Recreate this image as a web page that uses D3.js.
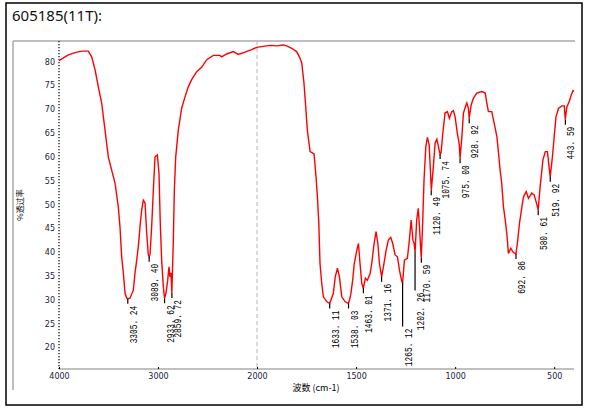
<!DOCTYPE html>
<meta charset="utf-8" />
<style>
  body { margin: 0; background: #fff; }
  .spectrum { fill: none; stroke: #ff0000; stroke-width: 1.4px; }
  .tick-lbl { font-family: "DejaVu Sans", sans-serif; font-size: 8px; fill: #1a1a40; }
  .peak-lbl { font-family: "Liberation Mono", monospace; font-size: 10px; fill: #000; }
</style>
<body>
<script src="https://d3js.org/d3.v7.min.js"></script>
<script>
// spectrum: wavenumber (cm-1) and % transmittance
var wavenumbers = [4000, 3906, 3838, 3771, 3704, 3670, 3636, 3603, 3569, 3535, 3502, 3468, 3434, 3401, 3384, 3367,
  3350, 3333, 3316, 3305, 3283, 3249, 3232, 3215, 3199, 3182, 3165, 3148, 3131, 3114, 3098, 3089, 3081, 3064, 3047,
  3030, 3007, 2990, 2977, 2963, 2946, 2934, 2919, 2902, 2889, 2879, 2869, 2860, 2845, 2835, 2821, 2795, 2761, 2727,
  2694, 2660, 2609, 2559, 2508, 2441, 2374, 2357, 2306, 2239, 2189, 2121, 2054, 2003, 1968, 1934, 1900, 1867, 1850,
  1825, 1800, 1786, 1774, 1763, 1754, 1746, 1732, 1712, 1702, 1695, 1688, 1682, 1673, 1665, 1648, 1633, 1615, 1605,
  1594, 1584, 1572, 1556, 1538, 1527, 1517, 1509, 1496, 1488, 1480, 1471, 1463, 1453, 1443, 1429, 1421, 1409, 1399,
  1390, 1382, 1371, 1362, 1348, 1337, 1325, 1315, 1303, 1291, 1281, 1269, 1265, 1256, 1241, 1231, 1222, 1213, 1207,
  1202, 1194, 1186, 1180, 1171, 1165, 1157, 1148, 1140, 1131, 1120, 1110, 1101, 1092, 1079, 1076, 1071, 1062, 1051,
  1039, 1029, 1017, 1009, 1000, 989, 979, 975, 966, 958, 948, 941, 933, 929, 919, 908, 891, 865, 848, 840, 832, 815,
  803, 789, 781, 773, 765, 756, 747, 739, 731, 719, 706, 693, 684, 675, 663, 655, 641, 630, 613, 601, 587, 581, 571,
  557, 545, 534, 524, 520, 509, 500, 491, 478, 461, 449, 444, 436, 424, 414, 405, 400];
var transmittance = [80.2, 81.4, 81.9, 82.2, 82.2, 81.0, 78.3, 74.7, 71.3, 65.6, 60.0, 57.2, 54.5, 49.5, 45.3, 39.0,
  35.6, 31.4, 30.3, 30.2, 30.3, 32.0, 35.6, 38.3, 41.1, 45.3, 48.8, 50.9, 50.3, 44.0, 39.4, 39.0, 39.4, 45.3, 53.0,
  60.0, 60.4, 56.6, 46.1, 38.3, 32.7, 30.3, 31.4, 34.1, 36.9, 34.8, 35.6, 31.4, 42.5, 53.0, 60.0, 65.6, 70.2, 72.6,
  74.7, 76.2, 77.9, 78.8, 80.4, 81.3, 81.3, 81.0, 81.6, 82.1, 81.5, 82.0, 82.5, 83.0, 83.2, 83.4, 83.3, 83.5, 83.3,
  82.8, 82.1, 81.0, 79.7, 75.5, 70.5, 65.6, 61.1, 60.6, 55.8, 51.6, 46.0, 37.6, 33.4, 30.6, 29.6, 29.2, 31.3, 34.8,
  36.6, 34.8, 30.6, 29.6, 29.2, 31.0, 34.1, 37.6, 40.4, 41.8, 37.6, 33.4, 32.4, 34.5, 34.1, 35.5, 37.6, 41.8, 44.3,
  41.8, 37.6, 34.8, 36.9, 40.4, 42.5, 43.1, 41.8, 39.4, 39.0, 36.2, 33.8, 33.6, 38.3, 38.7, 42.5, 46.7, 42.5, 41.8,
  40.1, 46.7, 49.2, 45.3, 38.8, 44.6, 55.1, 62.1, 64.1, 62.5, 53.0, 57.9, 62.9, 63.7, 61.1, 60.6, 60.8, 65.0, 69.2,
  69.5, 68.1, 69.5, 69.7, 68.4, 65.0, 62.5, 59.7, 64.2, 69.2, 70.5, 71.3, 70.2, 68.1, 70.9, 72.3, 73.4, 73.7, 73.4,
  71.3, 69.5, 69.5, 67.1, 64.2, 60.8, 57.2, 54.5, 49.5, 46.7, 43.9, 39.7, 40.8, 39.9, 39.6, 42.5, 46.1, 49.5, 51.6,
  52.7, 51.3, 52.4, 52.0, 49.9, 48.8, 53.7, 59.3, 61.1, 61.1, 57.2, 55.8, 60.0, 64.2, 68.4, 70.2, 70.7, 70.7, 67.8,
  70.5, 71.6, 73.0, 73.9, 73.7];

// picked peaks
var peakWavenumbers = [3305.24, 3089.40, 2933.62, 2859.72, 1633.11, 1538.03, 1463.01, 1371.16, 1265.12, 1202.26,
  1170.59, 1120.49, 1075.74, 975.00, 928.92, 692.86, 580.61, 519.92, 443.59];
var peakTransmittance = [30.2, 39.0, 30.3, 31.4, 29.2, 29.2, 32.4, 34.8, 33.6, 40.1, 38.8, 53.0, 60.6, 59.7, 68.1,
  39.6, 48.8, 55.8, 67.8];

var xTicks = [4000, 3000, 2000, 1500, 1000, 500];
var yTicks = [20, 25, 30, 35, 40, 45, 50, 55, 60, 65, 70, 75, 80];

var title = '605185(11T):';
var xTitle = '波数 (cm-1)';
var yTitle = '%透过率';

// longer leader lines for a couple of crowded labels (px)
var leaderLength = { '1265.12': 44, '1202.26': 39 };

var width = 591, height = 410;
var plot = { left: 59, right: 574, top: 41, bottom: 369 };

// x axis is expanded 2x below 2000 cm-1
var x = d3.scaleLinear().domain([4000, 2000, 400]).range([plot.left, 257, plot.right]);
var y = d3.scaleLinear().domain([20, 80]).range([347.3, 61.6]);

var svg = d3.select('body').append('svg')
  .attr('width', width)
  .attr('height', height);

// outer frame
svg.append('rect')
  .attr('x', 6).attr('y', 3)
  .attr('width', 576).attr('height', 402)
  .attr('fill', 'none').attr('stroke', '#000').attr('stroke-width', 1.5);

svg.append('text')
  .attr('x', 12).attr('y', 21)
  .style('font-family', '"Noto Sans", sans-serif')
  .style('font-size', '15px')
  .attr('fill', '#111')
  .text(title);

// grey frame lines
svg.append('line')
  .attr('x1', 13).attr('x2', plot.right + 1)
  .attr('y1', plot.top).attr('y2', plot.top)
  .attr('stroke', '#a8a8a8').attr('stroke-width', 1.5);
svg.append('line')
  .attr('x1', 13).attr('x2', 13)
  .attr('y1', plot.top).attr('y2', 390)
  .attr('stroke', '#a8a8a8').attr('stroke-width', 1.5);

// 2000 cm-1 scale break
svg.append('line')
  .attr('x1', x(2000)).attr('x2', x(2000))
  .attr('y1', plot.top).attr('y2', plot.bottom)
  .attr('stroke', '#b4b4b4').attr('stroke-dasharray', '4,3');

// x axis
var xAxis = svg.append('g')
  .attr('transform', 'translate(0,' + plot.bottom + ')')
  .call(d3.axisBottom(x).tickValues(xTicks).tickFormat(d3.format('d'))
    .tickSizeInner(-2).tickSizeOuter(0).tickPadding(4));
xAxis.select('.domain').remove();
xAxis.selectAll('.tick line').attr('stroke', '#000');
xAxis.selectAll('.tick text').attr('class', 'tick-lbl').attr('fill', null);
xAxis.insert('line', ':first-child')
  .attr('x1', plot.left).attr('x2', plot.right)
  .attr('stroke', '#c0c0c0').attr('stroke-width', 2);

// y axis
var yAxis = svg.append('g')
  .attr('transform', 'translate(' + plot.left + ',0)')
  .call(d3.axisLeft(y).tickValues(yTicks).tickFormat(d3.format('d')).tickSize(0).tickPadding(4));
yAxis.select('.domain').remove();
yAxis.selectAll('.tick text').attr('class', 'tick-lbl').attr('fill', null);
yAxis.append('line')
  .attr('y1', plot.top).attr('y2', plot.bottom)
  .attr('stroke', '#000').attr('stroke-width', 1.2).attr('stroke-dasharray', '1.2,1.8');

// axis titles
svg.append('text')
  .attr('x', 316).attr('y', 391)
  .attr('text-anchor', 'middle')
  .style('font-family', '"Noto Sans CJK SC", sans-serif')
  .style('font-size', '9px')
  .text(xTitle);
svg.append('text')
  .attr('transform', 'translate(23,205) rotate(-90)')
  .attr('text-anchor', 'middle')
  .style('font-family', '"Noto Sans CJK SC", sans-serif')
  .style('font-size', '8px')
  .text(yTitle);

// spectrum
var spectrum = wavenumbers.map(function(w, i) { return { w: w, t: transmittance[i] }; });
var line = d3.line()
  .x(function(d) { return x(d.w); })
  .y(function(d) { return y(d.t); });
svg.append('path')
  .datum(spectrum)
  .attr('class', 'spectrum')
  .attr('d', line);

// peak markers and labels
var peaks = peakWavenumbers.map(function(w, i) {
  var lbl = w.toFixed(2);
  return { w: w, t: peakTransmittance[i], label: lbl.replace('.', '. '), lead: leaderLength[lbl] || 5 };
});
var pg = svg.append('g').selectAll('g').data(peaks).enter().append('g');
pg.append('line')
  .attr('x1', function(d) { return x(d.w); })
  .attr('x2', function(d) { return x(d.w); })
  .attr('y1', function(d) { return y(d.t); })
  .attr('y2', function(d) { return y(d.t) + d.lead; })
  .attr('stroke', '#000').attr('stroke-width', 1.2);
pg.append('text')
  .attr('class', 'peak-lbl')
  .attr('text-anchor', 'end')
  .attr('transform', function(d) {
    return 'translate(' + (x(d.w) + 9) + ',' + (y(d.t) + d.lead + 2) + ') rotate(-90)';
  })
  .attr('textLength', function(d) { return d.label.length * 4.7; })
  .attr('lengthAdjust', 'spacingAndGlyphs')
  .text(function(d) { return d.label; });
</script>
</body>
